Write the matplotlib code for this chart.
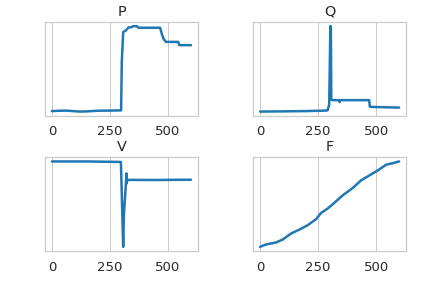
import matplotlib
matplotlib.use("Agg")
import matplotlib.pyplot as plt
import seaborn as sns

# Data (arbitrary units)
p_t = [0, 30, 60, 90, 120, 150, 200, 250, 298, 301, 307, 319, 330, 343, 350, 366, 372, 466, 473, 480, 491, 544, 549, 599]
p_val = [6.0, 6.3, 6.5, 6.0, 5.5, 5.7, 6.4, 6.5, 6.7, 56.0, 86.3, 88.0, 91.0, 91.3, 92.3, 92.3, 90.7, 90.7, 84.7, 79.7, 76.3, 76.3, 73.0, 73.0]

q_t = [0, 100, 200, 285, 291, 298, 303, 305, 307, 313, 340, 343, 346, 470, 473, 478, 599]
q_val = [6.0, 6.2, 6.5, 7.0, 7.3, 13.0, 92.0, 92.0, 18.0, 17.5, 17.5, 15.5, 17.5, 17.5, 11.0, 10.7, 10.0]

v_t = [0, 150, 297, 300, 307, 310, 314, 318, 321, 322, 324, 330, 450, 599]
v_val = [90.0, 90.0, 89.5, 66.0, 4.3, 36.0, 51.0, 65.0, 78.0, 68.0, 71.0, 71.5, 71.4, 71.7]

f_t = [0, 26, 69, 98, 134, 170, 205, 241, 263, 291, 313, 356, 399, 435, 471, 507, 543, 572, 599]
f_val = [4.3, 6.7, 8.7, 11.7, 17.7, 21.7, 26.0, 32.0, 38.3, 42.7, 47.0, 56.0, 63.3, 71.0, 76.0, 81.0, 86.7, 88.3, 90.0]

series = [("P", p_t, p_val), ("Q", q_t, q_val), ("V", v_t, v_val), ("F", f_t, f_val)]

sns.set_theme(style="whitegrid", font_scale=1.2)
fig, axes = plt.subplots(2, 2, figsize=(6, 4), dpi=72)
fig.subplots_adjust(left=0.104, right=0.94, top=0.924, bottom=0.128,
                    wspace=0.36, hspace=0.44)

for ax, (name, t, vals) in zip(axes.flat, series):
    ax.plot(t, vals, color="#1f77b4", linewidth=2.5)
    ax.set_title(name)
    ax.set_yticks([])
    ax.set_xticks([0, 250, 500])

fig.savefig("out.png", dpi=72)
